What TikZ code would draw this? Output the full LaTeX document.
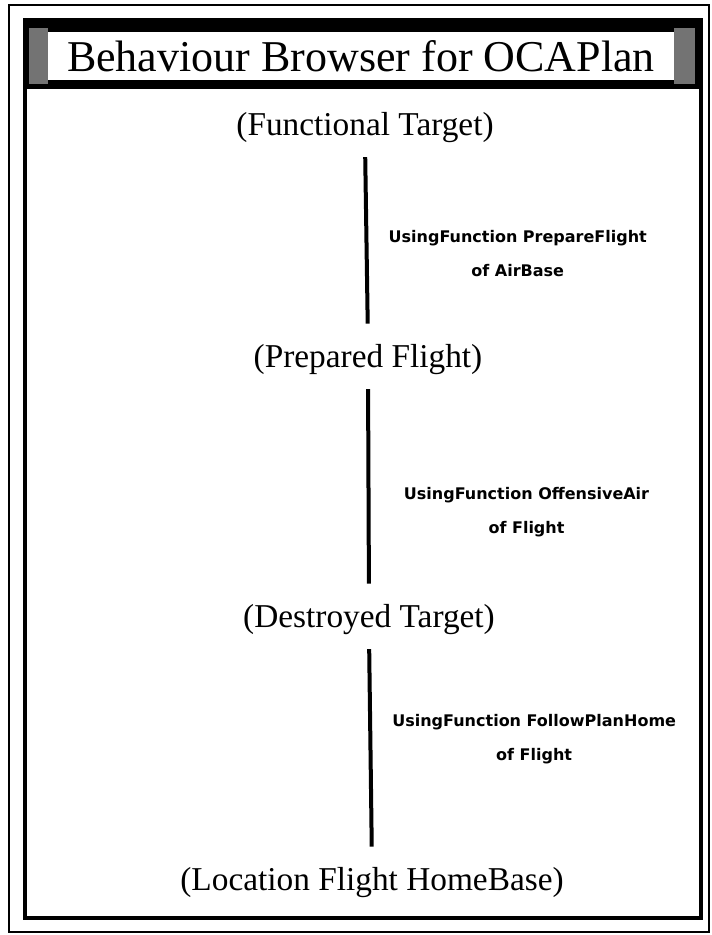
\documentclass[tikz,border=0pt]{standalone}
\usepackage{fontspec}
\setmainfont{Liberation Serif}
\newfontfamily\fnfont{DejaVu Sans}

\begin{document}
\begin{tikzpicture}[x=0.75pt, y=-0.75pt,
    every node/.style={inner sep=0pt},
    zustand/.style={anchor=base, font=\fontsize{25}{28}\selectfont},
    verb/.style={line width=3pt, shorten <=11pt, shorten >=15pt},
    funk/.style={anchor=west, align=center, font=\fnfont\bfseries\fontsize{12}{25.5}\selectfont}]
    \useasboundingbox (0,0) rectangle (712,935);

    % Fensterrahmen
    \draw[line width=2pt] (9,5) rectangle (709,932);
    \fill (25,20) rectangle (701,89);
    \fill[black!55] (29,28) rectangle (48,84);
    \fill[black!55] (674,28) rectangle (695,84);
    \draw[line width=3pt] (25,20) rectangle (701,918);
    \node[fill=white, minimum width=469pt, minimum height=36pt,
          font=\fontsize{33}{36}\selectfont] (titel) at (361,56) {Behaviour Browser for OCAPlan};

    % Zustaende
    \node[zustand] (ft) at (365,135) {(Functional Target)};
    \node[zustand] (pf) at (368,367) {(Prepared Flight)};
    \node[zustand] (dt) at (369,627) {(Destroyed Target)};
    \node[zustand] (lh) at (372,890) {(Location Flight HomeBase)};

    % Funktionen
    \draw[verb] (ft.south) -- (pf.north)
        node[funk, pos=0.55, xshift=15pt] {UsingFunction PrepareFlight\\of AirBase};
    \draw[verb] (pf.south) -- (dt.north)
        node[funk, pos=0.6, xshift=25pt] {UsingFunction OffensiveAir\\of Flight};
    \draw[verb] (dt.south) -- (lh.north)
        node[funk, pos=0.45, xshift=15pt] {UsingFunction FollowPlanHome\\of Flight};
\end{tikzpicture}
\end{document}
